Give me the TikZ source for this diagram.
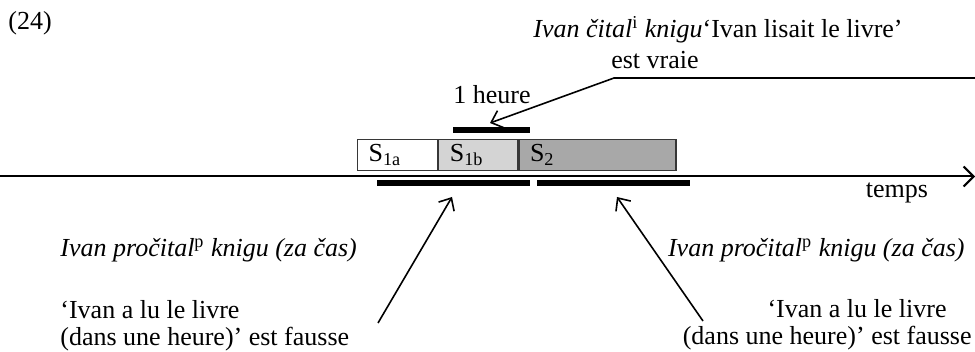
\documentclass[tikz,border=0pt]{standalone}
\usepackage{fontspec}
\setmainfont{Liberation Serif}
\usetikzlibrary{arrows.meta,positioning}
\definecolor{seglight}{RGB}{212,212,212}
\definecolor{segdark}{RGB}{168,168,168}
\definecolor{frame}{RGB}{55,55,55}
\tikzset{
  txt/.style     = {inner sep=0pt, font=\fontsize{13}{13.5}\selectfont},
  seg/.style     = {draw=frame, line width=0.6pt, minimum height=15.5pt,
                    inner xsep=5.5pt, inner ysep=0pt, align=left,
                    anchor=north west, font=\fontsize{13}{13.5}\selectfont},
  bar/.style     = {line width=3pt},
  pointer/.style = {-{Straight Barb[length=5pt,width=9pt]}, line width=0.8pt},
  timeline/.style= {-{Straight Barb[length=5pt,width=10pt]}, line width=1pt},
}

\begin{document}
\begin{tikzpicture}[x=0.5pt,y=-0.5pt]
\useasboundingbox (0,0) rectangle (975,352);
\node[txt, anchor=west] (num) at (8,23) {(24)};
\node[txt, anchor=west] (vrai) at (533,30)
  {\textit{Ivan čital}\textsuperscript{i} \textit{knigu}‘Ivan lisait le livre’};
\node[txt] (vraie) at (655,60) {est vraie};
\node[txt] (heure) at (492,95) {1 heure};
\coordinate (vend) at (975,78);
\coordinate (vkink) at (614,78);
\coordinate (htip) at (490,123);
\draw[pointer] (vend) -- (vkink) -- (htip);
\draw[bar] (453,130) -- (530,130);
\node[seg, fill=white, text width=29pt] (s1a) at (357,139) {S\textsubscript{1a}};
\node[seg, fill=seglight, text width=28.5pt] (s1b) at (s1a.north east) {S\textsubscript{1b}};
\node[seg, fill=segdark, text width=67.5pt] (s2) at (s1b.north east) {S\textsubscript{2}};
\coordinate (t0) at (0,176.5);
\coordinate (t1) at (975,176.5);
\draw[timeline] (t0) -- (t1);
\draw[bar] (377,183) -- (530,183);
\draw[bar] (537,183) -- (690,183);
\node[txt] (temps) at (897,193) {temps};
\node[txt, anchor=west] (plft) at (60,250) {\textit{Ivan pročital}\textsuperscript{p} \textit{knigu (za čas)}};
\node[txt, anchor=west, align=left] (flft) at (60,326)
  {‘Ivan a lu le livre\\(dans une heure)’ est fausse};
\node[txt, anchor=east] (prgt) at (965,250) {\textit{Ivan pročital}\textsuperscript{p} \textit{knigu (za čas)}};
\node[txt, anchor=east, align=right] (frgt) at (972,325)
  {‘Ivan a lu le livre\hbox to 12.5pt{}\\(dans une heure)’ est fausse};
\coordinate (ltail) at (378,323);
\coordinate (ltip) at (452,197);
\coordinate (rtail) at (703,321);
\coordinate (rtip) at (617,197);
\draw[pointer] (ltail) -- (ltip);
\draw[pointer] (rtail) -- (rtip);
\end{tikzpicture}
\end{document}
